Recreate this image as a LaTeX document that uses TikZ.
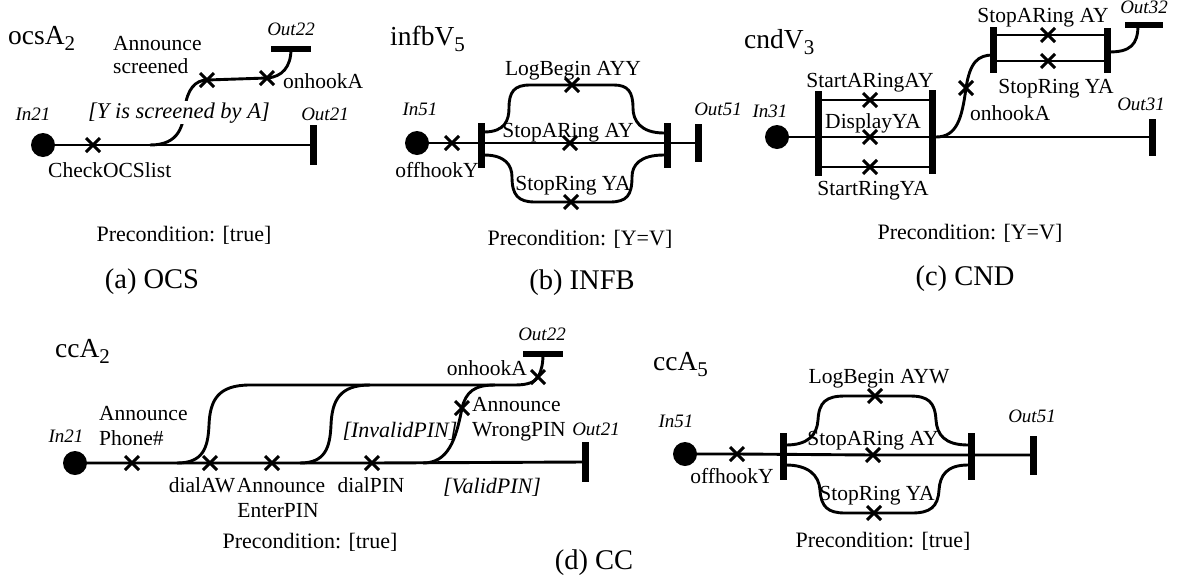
\documentclass[tikz,border=0pt]{standalone}
\usepackage{fontspec}
\setmainfont{Liberation Serif}
\usetikzlibrary{shapes.misc}
\newcommand\subs[1]{\raisebox{-6pt}{\fontsize{21}{21}\selectfont #1}}
\begin{document}
\begin{tikzpicture}[x=1pt,y=-1pt,
  wire/.style={line width=2.9pt},
  mk/.style={draw, cross out, line width=3pt, minimum size=11pt, inner sep=0pt},
  startdot/.style={circle, fill, inner sep=0pt, minimum size=24pt},
  vbar/.style={fill, inner sep=0pt, minimum width=7pt, minimum height=#1},
  hbar/.style={fill, inner sep=0pt, minimum height=6pt, minimum width=#1},
  lbl/.style={font=\fontsize{21.5}{23}\selectfont, inner sep=0pt, anchor=base},
  io/.style={font=\fontsize{19}{21}\selectfont\itshape, inner sep=0pt, anchor=base},
  cond/.style={font=\fontsize{22}{24}\selectfont\itshape, inner sep=0pt, anchor=base},
  ttl/.style={font=\fontsize{27.5}{30}\selectfont, inner sep=0pt, anchor=base west},
  capt/.style={font=\fontsize{28.5}{32}\selectfont, inner sep=0pt, anchor=base},
  precond/.style={font=\fontsize{22}{24}\selectfont, inner sep=0pt, anchor=base},
]
\useasboundingbox (0,0) rectangle (1184,579);

% ---------------- (a) OCS ----------------
\node[ttl] (a-t) at (8,44) {ocsA\subs{2}};
\node[startdot] (a-in) at (43,145) {};
\node[io] (a-inl) at (33,120) {In21};
\node[mk] (a-m1) at (93,145) {};
\node[vbar=40pt] (a-o21) at (313,145) {};
\node[io] (a-o21l) at (325,120) {Out21};
\node[hbar=40pt] (a-o22) at (291,49) {};
\node[io] (a-o22l) at (291,35) {Out22};
\node[mk] (a-m2) at (207,80) {};
\node[mk] (a-m3) at (267,78) {};
\coordinate (a-j) at (150,145);
\draw[wire] (a-in.center) -- (a-m1.center) -- (a-o21.center);
\draw[wire] (a-j) .. controls (180,145) and (183,125) .. (185,108)
  .. controls (187,90) and (195,80) .. (a-m2.center) -- (a-m3.center)
  .. controls (282,77) and (291,67) .. (a-o22.center);
\node[cond, fill=white, inner sep=1pt, font=\fontsize{22.5}{24}\selectfont\itshape] (a-g) at (179,118) {[Y is screened by A]};
\node[lbl, anchor=base west] (a-l1) at (113,50) {Announce};
\node[lbl, anchor=base west] (a-l2) at (113,73) {screened};
\node[lbl, anchor=base west] (a-l3) at (283,88) {onhookA};
\node[lbl, anchor=base west] (a-l4) at (48,177) {CheckOCSlist};
\node[precond] (a-p) at (184,241) {Precondition: [true]};
\node[capt] (a-c) at (152,288) {(a) OCS};

% ---------------- (b) INFB ----------------
\node[ttl] (b-t) at (390,45) {infbV\subs{5}};
\node[startdot] (b-in) at (417,143) {};
\node[io] (b-inl) at (420,115) {In51};
\node[mk] (b-m0) at (452,143) {};
\node[vbar=45pt] (b-L) at (481,145) {};
\node[vbar=45pt] (b-R) at (667,145) {};
\node[vbar=38pt] (b-o51) at (698,143) {};
\node[io] (b-o51l) at (718,115) {Out51};
\node[mk] (b-m1) at (570,143) {};
\node[mk] (b-m2) at (572,85) {};
\node[mk] (b-m3) at (571,202) {};
\coordinate (b-u1) at (484,132);
\coordinate (b-u2) at (664,133);
\coordinate (b-d1) at (484,155);
\coordinate (b-d2) at (664,155);
\draw[wire] (b-in.center) -- (b-m0.center) -- (b-m1.center) -- (b-o51.center);
\draw[wire] (b-u1) .. controls (505,132) and (509,120) .. (509,108)
  .. controls (509,92) and (514,85) .. (530,85) -- (b-m2.center) -- (614,85)
  .. controls (628,85) and (633,92) .. (633,108)
  .. controls (633,120) and (640,133) .. (b-u2);
\draw[wire] (b-d1) .. controls (505,155) and (512,165) .. (512,177)
  .. controls (512,195) and (518,202) .. (535,202) -- (b-m3.center) -- (610,202)
  .. controls (627,202) and (632,195) .. (632,177)
  .. controls (632,165) and (640,155) .. (b-d2);
\node[lbl] (b-l1) at (573,75) {LogBegin AYY};
\node[lbl] (b-l2) at (568,137) {StopARing AY};
\node[lbl] (b-l3) at (573,190) {StopRing YA};
\node[lbl] (b-l4) at (437,177) {offhookY};
\node[precond] (b-p) at (580,245) {Precondition: [Y=V]};
\node[capt] (b-c) at (582,289) {(b) INFB};

% ---------------- (c) CND ----------------
\node[ttl] (c-t) at (744,48) {cndV\subs{3}};
\node[startdot] (c-in) at (777,137) {};
\node[io] (c-inl) at (770,117) {In31};
\node[vbar=85pt] (c-L) at (818,133) {};
\node[vbar=84pt] (c-R) at (932,132) {};
\node[mk] (c-m1) at (870,100) {};
\node[mk] (c-m2) at (870,137) {};
\node[mk] (c-m3) at (870,167) {};
\node[vbar=37pt] (c-o31) at (1152,137) {};
\node[io] (c-o31l) at (1141,110) {Out31};
\draw[wire] (c-in.center) -- (c-m2.center) -- (c-o31.center);
\draw[wire] (c-L.center |- c-m1.center) -- (c-m1.center) -- (c-R.center |- c-m1.center);
\draw[wire] (c-L.center |- c-m3.center) -- (c-m3.center) -- (c-R.center |- c-m3.center);
\coordinate (c-j) at (936,137);
\node[mk] (c-m4) at (966,88) {};
\node[vbar=46pt] (c-L2) at (993,50) {};
\node[vbar=45pt] (c-R2) at (1107,50) {};
\coordinate (c-u1) at (993,55);
\coordinate (c-u2) at (1109,52);
\node[mk] (c-m5) at (1048,35) {};
\node[mk] (c-m6) at (1048,61) {};
\node[hbar=38pt] (c-o32) at (1144,25) {};
\node[io] (c-o32l) at (1144,13) {Out32};
\draw[wire] (c-j) .. controls (957,137) and (962,118) .. (c-m4.center)
  .. controls (970,62) and (978,55) .. (c-u1);
\draw[wire] (c-L2.center |- c-m5.center) -- (c-m5.center) -- (c-R2.center |- c-m5.center);
\draw[wire] (c-L2.center |- c-m6.center) -- (c-m6.center) -- (c-R2.center |- c-m6.center);
\draw[wire] (c-u2) .. controls (1130,52) and (1138,45) .. ([xshift=-6pt]c-o32.center);
\node[lbl] (c-l1) at (870,87) {StartARingAY};
\node[lbl] (c-l2) at (873,128) {DisplayYA};
\node[lbl] (c-l3) at (873,195) {StartRingYA};
\node[lbl] (c-l4) at (1043,22) {StopARing AY};
\node[lbl] (c-l5) at (1056,93) {StopRing YA};
\node[lbl, anchor=base west] (c-l6) at (970,120) {onhookA};
\node[precond] (c-p) at (970,239) {Precondition: [Y=V]};
\node[capt] (c-c) at (965,285) {(c) CND};

% ---------------- (d) CC, ccA2 ----------------
\node[ttl] (d-t) at (55,357) {ccA\subs{2}};
\node[startdot] (d-in) at (75,463) {};
\node[io] (d-inl) at (66,442) {In21};
\node[mk] (d-m1) at (132,463) {};
\node[mk] (d-m2) at (210,463) {};
\node[mk] (d-m3) at (272,463) {};
\node[mk] (d-m4) at (372,463) {};
\node[vbar=40pt] (d-o21) at (585,462) {};
\node[io] (d-o21l) at (596,435) {Out21};
\draw[wire] (d-in.center) -- (d-m1.center) -- (d-m2.center) -- (d-m3.center) -- (d-m4.center) -- (d-o21.center);
\coordinate (d-j1) at (177,463);
\coordinate (d-j2) at (300,463);
\coordinate (d-j3) at (423,463);
\coordinate (d-t1) at (250,385);
\coordinate (d-t2) at (515,385);
\coordinate (d-t3) at (370,385);
\coordinate (d-t4) at (495,385);
\node[mk] (d-m5) at (462,408) {};
\node[mk] (d-m6) at (538,377) {};
\node[hbar=40pt] (d-o22) at (543,354) {};
\node[io] (d-o22l) at (542,340) {Out22};
\draw[wire] (d-j1) .. controls (203,463) and (208,448) .. (209,425)
  .. controls (210,400) and (218,385) .. (d-t1) -- (d-t2)
  .. controls (528,385) and (535,382) .. (d-m6.center)
  .. controls (542,370) and (543,362) .. (d-o22.center);
\draw[wire] (d-j2) .. controls (325,463) and (330,448) .. (331,425)
  .. controls (332,400) and (340,385) .. (d-t3);
\draw[wire] (d-j3) .. controls (448,463) and (456,440) .. (d-m5.center)
  .. controls (466,392) and (474,385) .. (d-t4);
\node[lbl, anchor=base west] (d-l1) at (99,420) {Announce};
\node[lbl, anchor=base west] (d-l2) at (99,445) {Phone\#};
\node[lbl] (d-l3) at (202,492) {dialAW};
\node[lbl] (d-l4) at (281,492) {Announce};
\node[lbl] (d-l5) at (278,517) {EnterPIN};
\node[lbl] (d-l6) at (371,492) {dialPIN};
\node[cond] (d-l7) at (400,437) {[InvalidPIN]};
\node[lbl, anchor=base west] (d-l8) at (472,411) {Announce};
\node[lbl, anchor=base west] (d-l9) at (472,436) {WrongPIN};
\node[lbl, anchor=base east] (d-l10) at (527,375) {onhookA};
\node[cond] (d-l11) at (492,493) {[ValidPIN]};
\node[precond] (d-p) at (310,548) {Precondition: [true]};
\node[capt] (d-c) at (594,569) {(d) CC};

% ---------------- (d) CC, ccA5 ----------------
\node[ttl] (e-t) at (653,370) {ccA\subs{5}};
\node[startdot] (e-in) at (685,454) {};
\node[io] (e-inl) at (676,427) {In51};
\node[mk] (e-m0) at (737,454) {};
\node[vbar=47pt] (e-L) at (783,456) {};
\node[vbar=47pt] (e-R) at (971,456) {};
\node[vbar=39pt] (e-o51) at (1033,455) {};
\node[io] (e-o51l) at (1032,422) {Out51};
\node[mk] (e-m1) at (873,455) {};
\node[mk] (e-m2) at (875,396) {};
\node[mk] (e-m3) at (874,513) {};
\coordinate (e-u1) at (786,445);
\coordinate (e-u2) at (968,445);
\coordinate (e-d1) at (786,465);
\coordinate (e-d2) at (968,465);
\draw[wire] (e-in.center) -- (e-m0.center) -- (e-m1.center) -- (e-o51.center);
\draw[wire] (e-u1) .. controls (808,445) and (817,435) .. (818,420)
  .. controls (819,402) and (826,396) .. (845,396) -- (e-m2.center) -- (910,396)
  .. controls (928,396) and (935,402) .. (936,420)
  .. controls (937,435) and (945,445) .. (e-u2);
\draw[wire] (e-d1) .. controls (808,465) and (819,475) .. (820,490)
  .. controls (821,507) and (828,513) .. (845,513) -- (e-m3.center) -- (912,513)
  .. controls (930,513) and (938,507) .. (939,490)
  .. controls (940,475) and (947,465) .. (e-d2);
\node[lbl] (e-l1) at (879,383) {LogBegin AYW};
\node[lbl] (e-l2) at (873,445) {StopARing AY};
\node[lbl] (e-l3) at (877,500) {StopRing YA};
\node[lbl] (e-l4) at (732,483) {offhookY};
\node[precond] (e-p) at (883,547) {Precondition: [true]};
\end{tikzpicture}
\end{document}
